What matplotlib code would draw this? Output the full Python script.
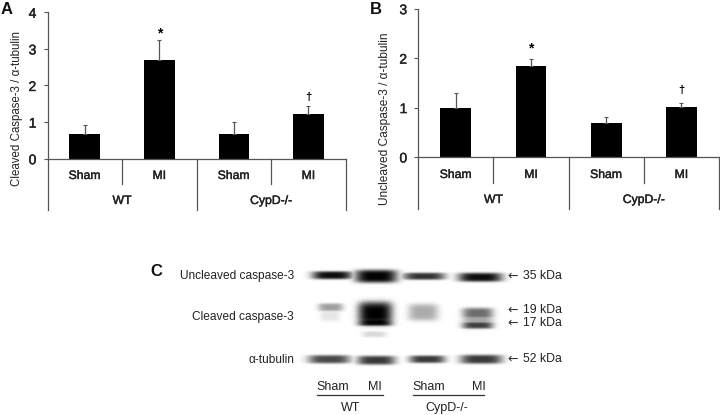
import numpy as np
import matplotlib
matplotlib.use('Agg')
import matplotlib.pyplot as plt
import matplotlib.patheffects as pe

plt.rcParams['font.family'] = ['Liberation Sans', 'DejaVu Sans']

W = 720
H = 415

conditions = ['Sham', 'MI', 'Sham', 'MI']
groups = ['WT', 'CypD-/-']

cleaved = [0.68, 2.70, 0.68, 1.23]
cleaved_err = [0.23, 0.53, 0.31, 0.20]
cleaved_marks = ['', '*', '', '†']

uncleaved = [1.00, 1.84, 0.68, 1.02]
uncleaved_err = [0.29, 0.15, 0.12, 0.08]
uncleaved_marks = ['', '*', '', '†']

# western blot bands: x from, x to, y centre, half height, darkness
blot_x0 = [312, 355, 403, 458, 308, 357, 409, 460, 318, 358, 358, 362, 408, 462, 462, 462, 320]
blot_x1 = [352, 397, 445, 502, 350, 395, 445, 502, 343, 392, 392, 386, 438, 493, 493, 493, 340]
blot_y = [275, 276, 276, 277, 359, 360, 359, 359, 307, 313, 322, 334, 312, 313, 325, 319, 315]
blot_h = [4.0, 6.5, 3.6, 4.5, 4.2, 4.5, 3.8, 4.5, 4.0, 11.5, 3.8, 3.0, 8.5, 5.5, 3.5, 9.0, 6.0]
blot_dark = [0.95, 1.0, 0.8, 0.95, 0.72, 0.78, 0.78, 0.78, 0.38, 1.0, 1.0, 0.15, 0.33, 0.58, 0.75, 0.35, 0.1]

soft = [pe.withStroke(linewidth=0.3, foreground='#222222')]


def panel(fig, left, right, top, bottom, ymax, values, errs, marks, mark_gap, ylabel, lab_x, lab_y, lab_size, inner_y, outer_y):
    ax = fig.add_axes([left / W, 1 - bottom / H, (right - left) / W, (bottom - top) / H])
    x = np.arange(len(values))
    ax.bar(x, values, width=0.41, color='black')
    ax.errorbar(x, values, yerr=[np.zeros(len(errs)), errs], fmt='none', ecolor='#555555',
                elinewidth=0.9, capsize=1.5, capthick=0.8)
    ax.set_xlim(-0.5, 3.5)
    ax.set_ylim(0, ymax)
    ax.set_yticks(range(ymax + 1))
    ax.set_xticks([])
    ax.tick_params(axis='y', length=3, width=0.8, color='#555555', labelsize=10, pad=5)
    for t in ax.get_yticklabels():
        t.set_color('#222222')
        t.set_path_effects(soft)
    for s in ['top', 'right']:
        ax.spines[s].set_visible(False)
    for s in ['left', 'bottom']:
        ax.spines[s].set_color('#555555')
        ax.spines[s].set_linewidth(0.9)

    # multi level category axis below the bars
    tr = ax.get_xaxis_transform()
    scale = (bottom - top) / ymax
    for pos, low in [(-0.5, outer_y), (0.5, inner_y), (1.5, outer_y), (2.5, inner_y), (3.5, outer_y)]:
        ax.plot([pos, pos], [0, -(low - bottom) / (bottom - top)], transform=tr,
                color='#555555', lw=0.9, clip_on=False)
    for i, c in enumerate(conditions):
        ax.text(i, -(inner_y - 8 - bottom) / (bottom - top), c, transform=tr, ha='center', va='center',
                fontsize=8.8, color='#222222', path_effects=soft)
    for i, g in enumerate(groups):
        ax.text(0.5 + 2 * i, -(outer_y - 9 - bottom) / (bottom - top), g, transform=tr, ha='center',
                va='center', fontsize=8.8, color='#222222', path_effects=soft)
    for i, m in enumerate(marks):
        if m:
            ax.text(i, values[i] + errs[i] + mark_gap[m] / scale, m, ha='center', va='center',
                    fontsize=10 if m == '*' else 8, fontweight='bold')
    fig.text(lab_x / W, 1 - lab_y / H, ylabel, rotation=90, ha='center', va='center',
             fontsize=lab_size, color='#222222')
    return ax


fig = plt.figure(figsize=(W / 100, H / 100), dpi=100)

panel(fig, 47.5, 345.7, 12.3, 158.7, 4, cleaved, cleaved_err, cleaved_marks, {'*': 7, '†': 9},
      'Cleaved Caspase-3 / α-tubulin', 17, 108, 8.3, 184, 210)
panel(fig, 418.3, 719, 8.7, 157, 3, uncleaved, uncleaved_err, uncleaved_marks, {'*': 10, '†': 13},
      'Uncleaved Caspase-3 / α-tubulin', 385, 119, 8.6, 183, 209)

# page level axes in pixels for the blot and its labels
page = fig.add_axes([0, 0, 1, 1])
page.patch.set_alpha(0)
page.axis('off')

xx, yy = np.meshgrid(np.arange(295, 515, 0.5), np.arange(260, 375, 0.5))
blot = np.zeros_like(xx)
for x0, x1, yc, h, d in zip(blot_x0, blot_x1, blot_y, blot_h, blot_dark):
    mid = (x0 + x1) / 2
    half = (x1 - x0) / 2
    across = np.exp(-((xx - mid) / half) ** 4)
    down = np.exp(-((yy - yc) / h) ** 4)
    blot = np.maximum(blot, d * across * down)
page.imshow(1 - blot, cmap='gray', vmin=0, vmax=1, extent=(295, 515, 375, 260), aspect='auto',
            interpolation='bilinear')
page.set_xlim(0, W)
page.set_ylim(H, 0)

for s, x, y in [('A', 1, 9), ('B', 370, 9), ('C', 150, 271)]:
    page.text(x, y, s, fontsize=12, fontweight='bold', ha='left', va='center', color='#111111')

blot_labels = ['Uncleaved caspase-3', 'Cleaved caspase-3', 'α-tubulin']
blot_label_y = [276, 317, 360]
for s, y in zip(blot_labels, blot_label_y):
    page.text(294, y, s, fontsize=8.6, ha='right', va='center', color='#222222')

kda_labels = ['35 kDa', '19 kDa', '17 kDa', '52 kDa']
kda_y = [276, 310, 323, 359]
for s, y in zip(kda_labels, kda_y):
    page.text(507, y, '←', fontsize=9, ha='left', va='center', color='#333333', family='DejaVu Sans')
    page.text(523, y, s, fontsize=8.8, ha='left', va='center', color='#222222')

lanes = ['Sham', 'MI', 'Sham', 'MI']
lane_x = [333, 375, 429, 479]
for s, x in zip(lanes, lane_x):
    page.text(x, 387, s, fontsize=9, ha='center', va='center', color='#222222')
page.plot([317, 383], [395, 395], color='#333333', lw=0.9)
page.plot([413, 484], [395, 395], color='#333333', lw=0.9)
page.text(351, 408, 'WT', fontsize=9, ha='center', va='center', color='#222222')
page.text(447, 408, 'CypD-/-', fontsize=9, ha='center', va='center', color='#222222')

fig.savefig('out.png', dpi=100)
